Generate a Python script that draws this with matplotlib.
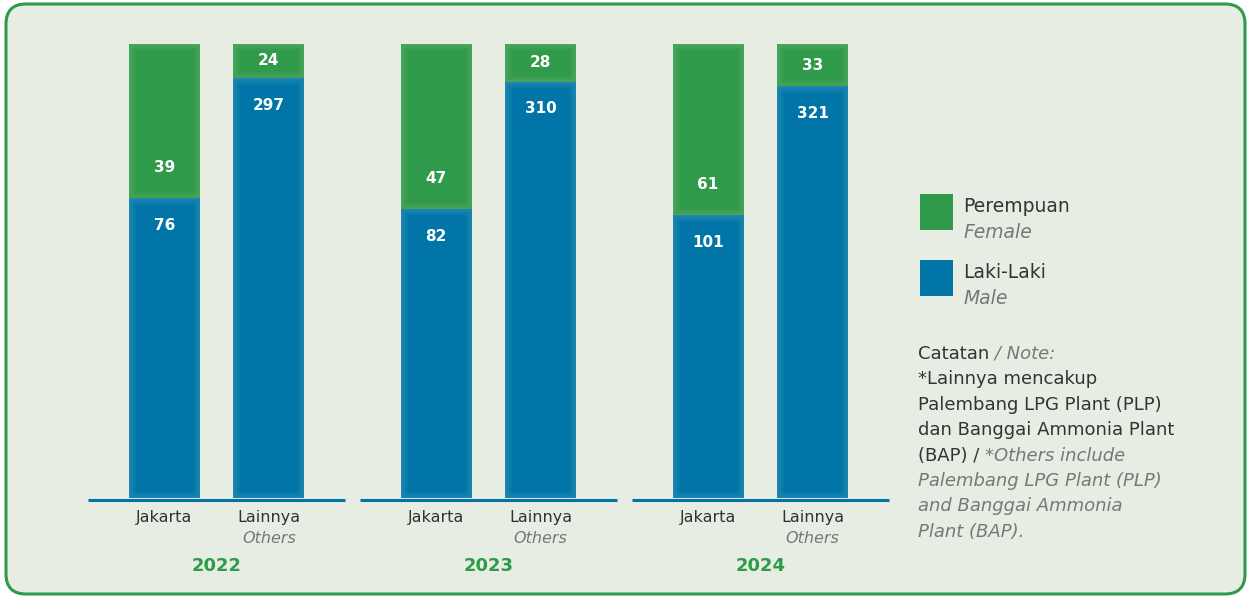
import matplotlib.pyplot as plt
from matplotlib.patches import FancyBboxPatch, Rectangle

plt.rcParams['font.family'] = ['DejaVu Sans']

years = ["2022", "2023", "2024"]
locations = ["Jakarta", "Lainnya"]
female = [[39, 24], [47, 28], [61, 33]]
male = [[76, 297], [82, 310], [101, 321]]

GREEN = "#2f9a49"
BLUE = "#0175a7"
BG = "#e8ede4"
TEXT = "#333333"
GREY = "#777777"

fig = plt.figure(figsize=(12.5, 5.98), dpi=100)
fig.patch.set_facecolor("white")

# frame around the whole chart
bg = fig.add_axes([0, 0, 1, 1])
bg.set_xlim(0, 1250)
bg.set_ylim(598, 0)
bg.axis("off")
bg.add_patch(FancyBboxPatch((6, 4), 1239, 590, boxstyle="round,pad=0,rounding_size=20",
                            facecolor=BG, edgecolor=GREEN, lw=2.2))

ax = fig.add_axes([88 / 1250, 100 / 598, 801 / 1250, 454 / 598])
ax.set_facecolor("none")
ax.set_xlim(-1.23, 6.43)
ax.set_ylim(0, 1)
ax.axis("off")

group_gap = 2.6
bar_w = 0.68


def soft_edges(patch):
    # light inner glow along the bar edges
    steps = 10
    for k in range(steps):
        edge = Rectangle(patch.get_xy(), patch.get_width(), patch.get_height(),
                         facecolor="none", edgecolor=(1, 1, 1, 0.015), lw=1.0 * (steps - k))
        ax.add_patch(edge)
        edge.set_clip_path(patch)


for g, year in enumerate(years):
    center = g * group_gap
    ax.plot([center - 1.23, center + 1.23], [-0.004, -0.004], color=BLUE, lw=2.2,
            solid_capstyle="butt", clip_on=False)
    for i, loc in enumerate(locations):
        x = center + (i - 0.5)
        total = female[g][i] + male[g][i]
        fm = male[g][i] / total
        ff = female[g][i] / total
        b1 = ax.bar(x, fm, width=bar_w, color=BLUE)[0]
        b2 = ax.bar(x, ff, bottom=fm, width=bar_w, color=GREEN)[0]
        soft_edges(b1)
        soft_edges(b2)
        ax.text(x, fm - 0.06, str(male[g][i]), color="white", fontsize=11,
                fontweight="bold", ha="center", va="center")
        ax.text(x, min(fm + ff / 2, fm + 0.068), str(female[g][i]), color="white",
                fontsize=11, fontweight="bold", ha="center", va="center")
        ax.text(x, -0.042, loc, color=TEXT, fontsize=11.5, ha="center", va="center",
                clip_on=False)
        if loc == "Lainnya":
            ax.text(x, -0.09, "Others", color=GREY, fontsize=11.5, style="italic",
                    ha="center", va="center", clip_on=False)
    ax.text(center, -0.149, year, color=GREEN, fontsize=13, fontweight="bold",
            ha="center", va="center", clip_on=False)

# legend
legend_items = [(GREEN, "Perempuan", "Female", 194), (BLUE, "Laki-Laki", "Male", 260)]
for color, label, label_en, top in legend_items:
    bg.add_patch(Rectangle((920, top), 33, 36, facecolor=color, edgecolor="none"))
    bg.text(963, top + 12, label, color=TEXT, fontsize=13.5, va="center", ha="left")
    bg.text(963, top + 38, label_en, color=GREY, fontsize=13.5, style="italic",
            va="center", ha="left")

# note block, mixed upright and italic runs per line
note_lines = [
    [("Catatan", TEXT, "normal"), (" / Note:", GREY, "italic")],
    [("*Lainnya mencakup", TEXT, "normal")],
    [("Palembang LPG Plant (PLP)", TEXT, "normal")],
    [("dan Banggai Ammonia Plant", TEXT, "normal")],
    [("(BAP) / ", TEXT, "normal"), ("*Others include", GREY, "italic")],
    [("Palembang LPG Plant (PLP)", GREY, "italic")],
    [("and Banggai Ammonia", GREY, "italic")],
    [("Plant (BAP).", GREY, "italic")],
]
renderer = fig.canvas.get_renderer()
for n, runs in enumerate(note_lines):
    y = 354 + n * 25.4
    x = 918
    for txt, color, style in runs:
        t = bg.text(x, y, txt, color=color, fontsize=13, style=style,
                    va="center", ha="left")
        x += t.get_window_extent(renderer).width

fig.savefig("out.png", dpi=100, facecolor=fig.get_facecolor())
